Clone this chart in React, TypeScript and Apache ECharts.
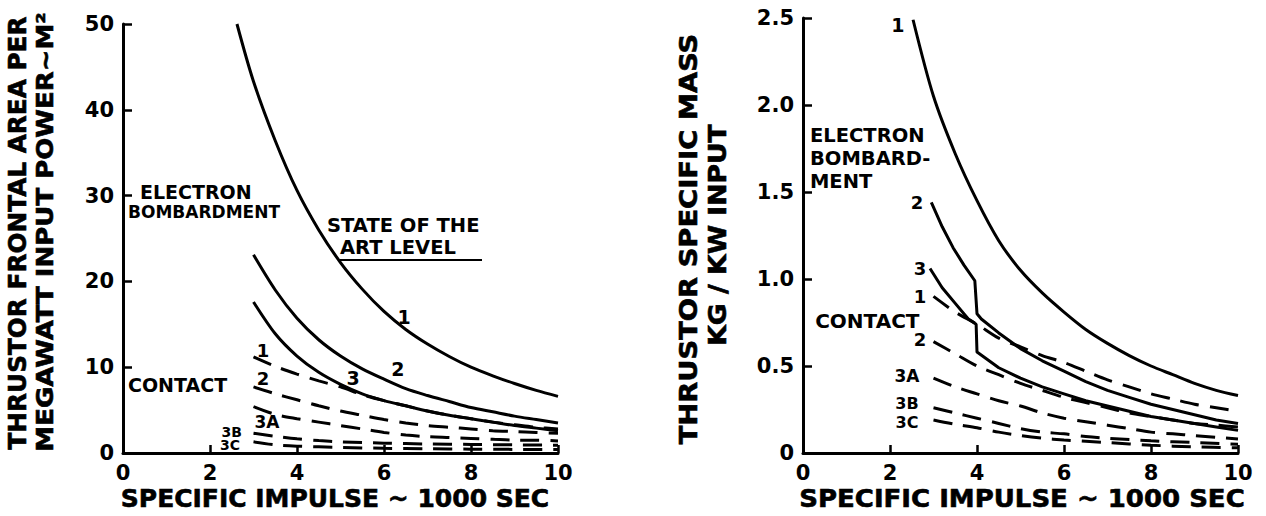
import React, { useEffect, useRef } from "react";
import * as echarts from "echarts";

// ---------- data (specific impulse in 1000 sec) ----------
// Left chart: thrustor frontal area per megawatt input power (m^2)
const leftEB1 = [[2.62, 50], [3, 43.3], [3.5, 36.4], [4, 30.6], [4.5, 26.0], [5, 22.2], [5.5, 19.1], [6, 16.5], [6.5, 14.4], [7, 12.7], [7.5, 11.25], [8, 10.0], [8.5, 9.0], [9, 8.1], [9.5, 7.3], [10, 6.6]];
const leftEB2 = [[3, 23.1], [3.5, 19], [4, 15.7], [4.5, 13.2], [5, 11.3], [5.5, 9.8], [6, 8.6], [6.5, 7.5], [7, 6.7], [7.5, 6.0], [8, 5.3], [8.5, 4.8], [9, 4.3], [9.5, 3.9], [10, 3.5]];
const leftEB3 = [[3, 17.6], [3.5, 13.9], [4, 11.3], [4.5, 9.4], [5, 8.0], [5.5, 6.9], [6, 6.1], [6.5, 5.5], [7, 4.9], [7.5, 4.4], [8, 4.0], [8.5, 3.6], [9, 3.2], [9.5, 2.9], [10, 2.6]];
const leftC1 = [[3, 11.2], [3.5, 10.1], [4, 9.2], [4.5, 8.4], [5, 7.7], [5.5, 6.8], [6, 6.1], [6.5, 5.5], [7, 4.9], [7.5, 4.4], [8, 4.0], [8.5, 3.6], [9, 3.3], [9.5, 3.0], [10, 2.8]];
const leftC2 = [[3, 7.7], [3.5, 6.9], [4, 6.2], [4.5, 5.5], [5, 4.9], [5.5, 4.4], [6, 3.9], [6.5, 3.5], [7, 3.2], [7.5, 3.0], [8, 2.8], [8.5, 2.6], [9, 2.5], [9.5, 2.4], [10, 2.3]];
const leftC3A = [[3, 5.4], [3.5, 4.5], [4, 4.0], [4.5, 3.6], [5, 3.2], [5.5, 2.8], [6, 2.4], [6.5, 2.1], [7, 1.9], [7.5, 1.8], [8, 1.7], [8.5, 1.6], [9, 1.5], [9.5, 1.5], [10, 1.4]];
const leftC3B = [[3, 2.3], [3.5, 1.95], [4, 1.65], [4.5, 1.45], [5, 1.3], [6, 1.15], [7, 1.05], [8, 1.0], [9, 0.95], [10, 0.9]];
const leftC3C = [[3, 1.3], [3.5, 0.95], [4, 0.8], [5, 0.65], [6, 0.55], [7, 0.5], [8, 0.45], [9, 0.42], [10, 0.4]];

// Right chart: thrustor specific mass (kg/kW input)
const rightEB1 = [[2.53, 2.49], [3, 2.05], [3.5, 1.72], [4, 1.45], [4.5, 1.22], [5, 1.05], [5.5, 0.92], [6, 0.81], [6.5, 0.71], [7, 0.63], [7.5, 0.56], [8, 0.5], [8.5, 0.45], [9, 0.4], [9.5, 0.36], [10, 0.33]];
const rightEB2 = [[2.95, 1.44], [3.2, 1.3], [3.45, 1.18], [3.7, 1.08], [3.95, 0.99], [4.0, 0.8], [4.1, 0.77], [4.5, 0.69], [5, 0.6], [5.5, 0.53], [6, 0.47], [6.5, 0.41], [7, 0.36], [7.5, 0.32], [8, 0.28], [8.5, 0.25], [9, 0.22], [9.5, 0.19], [10, 0.17]];
const rightEB3 = [[2.92, 1.06], [3.2, 0.95], [3.5, 0.86], [3.8, 0.77], [3.98, 0.74], [4.0, 0.58], [4.5, 0.49], [5, 0.43], [5.5, 0.38], [6, 0.34], [6.5, 0.3], [7, 0.27], [7.5, 0.24], [8, 0.21], [8.5, 0.19], [9, 0.17], [9.5, 0.15], [10, 0.13]];
const rightC1 = [[3, 0.9], [3.5, 0.81], [4, 0.74], [4.5, 0.66], [5, 0.61], [5.5, 0.56], [6, 0.52], [6.5, 0.47], [7, 0.42], [7.5, 0.38], [8, 0.34], [8.5, 0.31], [9, 0.28], [9.5, 0.26], [10, 0.24]];
const rightC2 = [[3, 0.64], [3.5, 0.57], [4, 0.5], [4.5, 0.45], [5, 0.4], [5.5, 0.36], [6, 0.32], [6.5, 0.29], [7, 0.26], [7.5, 0.23], [8, 0.21], [8.5, 0.19], [9, 0.17], [9.5, 0.16], [10, 0.15]];
const rightC3A = [[3, 0.43], [3.5, 0.38], [4, 0.34], [4.5, 0.3], [5, 0.27], [5.5, 0.23], [6, 0.2], [6.5, 0.18], [7, 0.16], [7.5, 0.14], [8, 0.12], [8.5, 0.11], [9, 0.1], [9.5, 0.09], [10, 0.08]];
const rightC3B = [[3, 0.26], [3.5, 0.23], [4, 0.2], [4.5, 0.17], [5, 0.14], [5.5, 0.12], [6, 0.11], [6.5, 0.095], [7, 0.085], [8, 0.07], [9, 0.06], [10, 0.05]];
const rightC3C = [[3, 0.19], [3.5, 0.165], [4, 0.145], [4.5, 0.12], [5, 0.1], [5.5, 0.085], [6, 0.075], [7, 0.06], [8, 0.045], [9, 0.035], [10, 0.03]];

// axis ranges / ticks
const xRange = [0, 10, 2];
const leftYRange = [0, 50, 10];
const rightYRange = [0, 2.5, 0.5];

// annotation texts (placed in data coordinates); "lines" = [text, indent, size]
const leftNotes: any[] = [
  { lines: [["ELECTRON", 12, 19], ["BOMBARDMENT", 0, 17]], x: 0.115, y: 29.3, a: "left", lh: 20 },
  { lines: [["STATE OF THE", 0, 19.5], ["ART LEVEL", 13, 19.5]], x: 4.69, y: 25.25, a: "left", lh: 22 },
  { t: "1", x: 6.46, y: 15.85, a: "center", s: 19, lh: 20 },
  { t: "2", x: 6.32, y: 9.8, a: "center", s: 19, lh: 20 },
  { t: "3", x: 5.29, y: 8.74, a: "center", s: 19, lh: 20 },
  { t: "CONTACT", x: 0.115, y: 7.9, a: "left", s: 19, lh: 20 },
  { t: "1", x: 3.22, y: 12.0, a: "center", s: 18, lh: 19 },
  { t: "2", x: 3.22, y: 8.74, a: "center", s: 18, lh: 19 },
  { t: "3A", x: 3.31, y: 3.6, a: "center", s: 17, lh: 18 },
  { t: "3B", x: 2.5, y: 2.5, a: "center", s: 14, lh: 13 },
  { t: "3C", x: 2.46, y: 0.9, a: "center", s: 14, lh: 13 },
];
const rightNotes: any[] = [
  { t: "1", x: 2.18, y: 2.46, a: "center", s: 19, lh: 20 },
  { t: "ELECTRON\nBOMBARD-\nMENT", x: 0.16, y: 1.69, a: "left", s: 19.5, lh: 23 },
  { t: "2", x: 2.62, y: 1.44, a: "center", s: 18, lh: 19 },
  { t: "3", x: 2.69, y: 1.06, a: "center", s: 18, lh: 19 },
  { t: "1", x: 2.69, y: 0.9, a: "center", s: 18, lh: 19 },
  { t: "CONTACT", x: 0.28, y: 0.76, a: "left", s: 20, lh: 21 },
  { t: "2", x: 2.69, y: 0.65, a: "center", s: 18, lh: 19 },
  { t: "3A", x: 2.39, y: 0.44, a: "center", s: 17, lh: 18 },
  { t: "3B", x: 2.39, y: 0.285, a: "center", s: 16, lh: 16 },
  { t: "3C", x: 2.39, y: 0.175, a: "center", s: 16, lh: 16 },
];

const FONT = "'DejaVu Sans', sans-serif";
const BLACK = "#000";

function lineSeries(data: number[][], gi: number, dashed: boolean, smooth: number | boolean = 0.3) {
  return {
    type: "line",
    data,
    xAxisIndex: gi,
    yAxisIndex: gi,
    symbol: "none",
    smooth,
    silent: true,
    lineStyle: { color: BLACK, width: 3, type: dashed ? [19, 11] : "solid", cap: "butt" },
  };
}

function noteLabel(n: any) {
  const base: any = {
    show: true,
    position: [0.5, 0.5],
    align: n.a,
    verticalAlign: "middle",
    color: BLACK,
    opacity: 1,
    textBorderWidth: 0,
    fontFamily: FONT,
    fontWeight: "bold",
    lineHeight: n.lh,
  };
  if (n.lines) {
    const rich: any = {};
    const parts: string[] = [];
    n.lines.forEach((l: any[], i: number) => {
      const key = "l" + i;
      rich[key] = {
        fontFamily: FONT,
        fontWeight: "bold",
        fontSize: l[2],
        color: BLACK,
        lineHeight: n.lh,
        padding: [0, 0, 0, l[1]],
      };
      parts.push("{" + key + "|" + l[0] + "}");
    });
    base.formatter = parts.join("\n");
    base.rich = rich;
    base.fontSize = n.lines[0][2];
  } else {
    base.formatter = n.t;
    base.fontSize = n.s;
  }
  return base;
}

function noteSeries(notes: any[], gi: number) {
  return {
    type: "scatter",
    xAxisIndex: gi,
    yAxisIndex: gi,
    symbolSize: 1,
    silent: true,
    itemStyle: { color: "rgba(0,0,0,0)" },
    label: { show: true, color: BLACK, opacity: 1 },
    data: notes.map((n) => ({ value: [n.x, n.y], label: noteLabel(n) })),
  };
}

function xAxis(gi: number) {
  return {
    type: "value",
    gridIndex: gi,
    min: xRange[0],
    max: xRange[1],
    interval: xRange[2],
    axisLine: { onZero: false, lineStyle: { color: BLACK, width: 3 } },
    axisTick: { inside: true, length: 8, lineStyle: { color: BLACK, width: 2.5 } },
    axisLabel: { color: BLACK, fontFamily: FONT, fontWeight: "bold", fontSize: 21, margin: 9 },
    splitLine: { show: false },
  };
}

function yAxis(gi: number, r: number[], fmt?: (v: number) => string) {
  return {
    type: "value",
    gridIndex: gi,
    min: r[0],
    max: r[1],
    interval: r[2],
    axisLine: { onZero: false, lineStyle: { color: BLACK, width: 3 } },
    axisTick: { inside: true, length: 9, lineStyle: { color: BLACK, width: 2.5 } },
    axisLabel: { color: BLACK, fontFamily: FONT, fontWeight: "bold", fontSize: 21, margin: 9, formatter: fmt },
    splitLine: { show: false },
  };
}

function vTitle(text: string, x: number, y: number, size: number, sx: number) {
  return {
    type: "text",
    x,
    y,
    rotation: Math.PI / 2,
    scaleX: sx,
    style: { text, fontFamily: FONT, fontWeight: "bold", fontSize: size, fill: BLACK, stroke: BLACK, lineWidth: 0.6, align: "center", verticalAlign: "middle" },
    silent: true,
  };
}
function hTitle(text: string, x: number, y: number, size: number, sx: number) {
  return {
    type: "text",
    x,
    y,
    scaleX: sx,
    style: { text, fontFamily: FONT, fontWeight: "bold", fontSize: size, fill: BLACK, stroke: BLACK, lineWidth: 0.6, align: "center", verticalAlign: "middle" },
    silent: true,
  };
}

export default function App() {
  const ref = useRef<HTMLDivElement>(null);
  useEffect(() => {
    document.body.style.margin = "0";
    const chart = echarts.init(ref.current!, null, { renderer: "svg" });
    const option: any = {
      animation: false,
      backgroundColor: "#fff",
      grid: [
        { left: 123, top: 24, width: 435, height: 429 },
        { left: 803, top: 18, width: 435, height: 435 },
      ],
      xAxis: [xAxis(0), xAxis(1)],
      yAxis: [
        yAxis(0, leftYRange),
        yAxis(1, rightYRange, (v: number) => (v === 0 ? "0" : v.toFixed(1))),
      ],
      series: [
        lineSeries(leftEB1, 0, false),
        lineSeries(leftEB2, 0, false),
        lineSeries(leftEB3, 0, false),
        lineSeries(leftC1, 0, true),
        lineSeries(leftC2, 0, true),
        lineSeries(leftC3A, 0, true),
        lineSeries(leftC3B, 0, true),
        lineSeries(leftC3C, 0, true),
        lineSeries(rightEB1, 1, false),
        lineSeries(rightEB2, 1, false, false),
        lineSeries(rightEB3, 1, false, false),
        lineSeries(rightC1, 1, true),
        lineSeries(rightC2, 1, true),
        lineSeries(rightC3A, 1, true),
        lineSeries(rightC3B, 1, true),
        lineSeries(rightC3C, 1, true),
        noteSeries(leftNotes, 0),
        noteSeries(rightNotes, 1),
      ],
      graphic: [
        vTitle("THRUSTOR FRONTAL AREA PER", 17, 233, 25, 0.99),
        vTitle("MEGAWATT INPUT POWER~M²", 45, 232, 23, 1.13),
        vTitle("THRUSTOR SPECIFIC MASS", 689, 239, 24, 1.14),
        vTitle("KG / KW INPUT", 717, 235, 24, 1.11),
        hTitle("SPECIFIC IMPULSE ~ 1000 SEC", 335, 498, 25, 1.0),
        hTitle("SPECIFIC IMPULSE ~ 1000 SEC", 1022, 498, 25, 1.04),
        { type: "line", shape: { x1: 340, y1: 260, x2: 482, y2: 260 }, style: { stroke: BLACK, lineWidth: 2 }, silent: true },
      ],
    };
    chart.setOption(option);
    return () => chart.dispose();
  }, []);
  return <div ref={ref} style={{ width: 1266, height: 516, background: "#fff" }} />;
}
